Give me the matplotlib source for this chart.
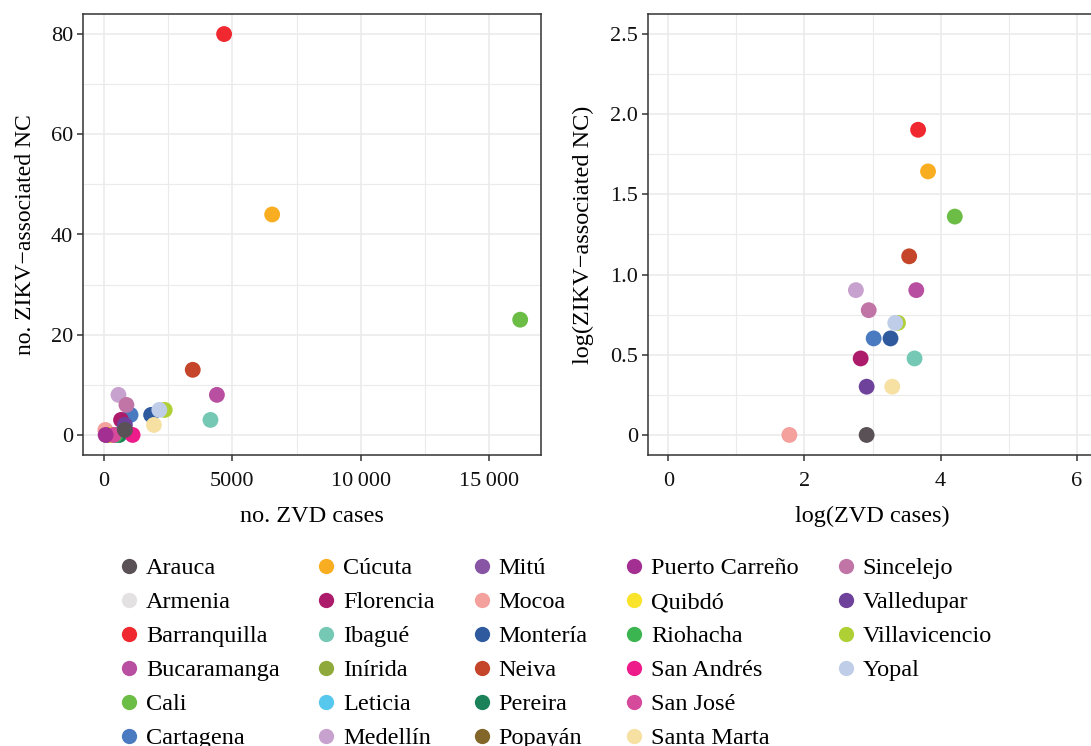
import numpy as np
import matplotlib
matplotlib.use("Agg")
import matplotlib.pyplot as plt
from matplotlib.lines import Line2D

# municipality, ZVD cases, ZIKV-associated NC
cities = ["Arauca", "Armenia", "Barranquilla", "Bucaramanga", "Cali", "Cartagena",
          "Cúcuta", "Florencia", "Ibagué", "Inírida", "Leticia", "Medellín",
          "Mitú", "Mocoa", "Montería", "Neiva", "Pereira", "Popayán",
          "Puerto Carreño", "Quibdó", "Riohacha", "San Andrés", "San José", "Santa Marta",
          "Sincelejo", "Valledupar", "Villavicencio", "Yopal"]
zvd_cases = [820, 200, 4680, 4400, 16200, 1040,
             6550, 670, 4150, 100, 500, 570,
             120, 60, 1840, 3460, 600, 250,
             70, 300, 450, 1120, 380, 1950,
             880, 820, 2370, 2160]
zikv_nc = [1, 0, 80, 8, 23, 4,
           44, 3, 3, 0, 0, 8,
           0, 1, 4, 13, 0, 0,
           0, 0, 0, 0, 0, 2,
           6, 2, 5, 5]
colors = ["#5A5156", "#E4E1E3", "#F0282F", "#B84FA0", "#6CBD45", "#4A7BC0",
          "#F9AE21", "#AC1C6B", "#74C8B4", "#8FAA3A", "#56C8EE", "#C8A2CE",
          "#8855A5", "#F4A09D", "#2F5A9E", "#C4452A", "#1A8158", "#82662A",
          "#A42F92", "#FAE42B", "#3BB54F", "#EE1C8A", "#D64A9C", "#F6E0A2",
          "#C075A6", "#6E429B", "#AFD035", "#BFCDE8"]
on_top = ["Puerto Carreño", "Arauca"]

left_xticks = [0, 5000, 10000, 15000]
left_xlabels = ["0", "5000", "10\u2009000", "15\u2009000"]

plt.rcParams["font.family"] = ["Liberation Serif", "DejaVu Serif"]
plt.rcParams["font.size"] = 16

fig = plt.figure(figsize=(10.91, 7.46), dpi=100)
ax1 = fig.add_axes([83 / 1091, 291 / 746, 458 / 1091, 441 / 746])
ax2 = fig.add_axes([648 / 1091, 291 / 746, 449 / 1091, 441 / 746])

cases = np.array(zvd_cases, dtype=float)
nc = np.array(zikv_nc, dtype=float)
order = [i for i in range(len(cities)) if cities[i] not in on_top] + \
        [cities.index(c) for c in on_top]

for z, i in enumerate(order):
    ax1.scatter(cases[i], nc[i], s=130, color=colors[i], edgecolors="none", zorder=3 + z * 0.01)
    if nc[i] > 0:
        ax2.scatter(np.log10(cases[i]), np.log10(nc[i]), s=130, color=colors[i],
                    edgecolors="none", zorder=3 + z * 0.01)

ax1.set_xlim(-810, 17010)
ax1.set_ylim(-4, 84)
ax1.set_xticks(left_xticks)
ax1.set_xticklabels(left_xlabels)
ax1.set_xticks([2500, 7500, 12500], minor=True)
ax1.set_yticks([0, 20, 40, 60, 80])
ax1.set_yticks([10, 30, 50, 70], minor=True)
ax1.set_xlabel("no. ZVD cases", fontsize=17.5, labelpad=11)
ax1.set_ylabel("no. ZIKV\u2212associated NC", fontsize=17, labelpad=10.5)

ax2.set_xlim(-0.3, 6.3)
ax2.set_ylim(-0.125, 2.625)
ax2.set_xticks([0, 2, 4, 6])
ax2.set_xticks([1, 3, 5], minor=True)
ax2.set_yticks([0, 0.5, 1.0, 1.5, 2.0, 2.5])
ax2.set_yticklabels(["0", "0.5", "1.0", "1.5", "2.0", "2.5"])
ax2.set_yticks([0.25, 0.75, 1.25, 1.75, 2.25], minor=True)
ax2.set_xlabel("log(ZVD cases)", fontsize=17.5, labelpad=11)
ax2.set_ylabel("log(ZIKV\u2212associated NC)", fontsize=17.5, labelpad=12)

for ax in (ax1, ax2):
    ax.grid(which="major", color="#EBEBEB", lw=1.2, zorder=0)
    ax.grid(which="minor", color="#EBEBEB", lw=0.8, zorder=0)
    ax.set_axisbelow(True)
    for sp in ax.spines.values():
        sp.set_color("#333333")
        sp.set_linewidth(1.1)
    ax.tick_params(which="major", length=4, width=1.1, color="#333333",
                   labelcolor="#111111")
    ax.tick_params(axis="x", which="major", pad=8)
    ax.tick_params(axis="y", which="major", pad=3)
    ax.tick_params(which="minor", length=0)

handles = [Line2D([], [], marker="o", ls="none", markersize=11, color=c, markeredgewidth=0)
           for c in colors]
labels = list(cities)
# two blank slots so the columns fill 6, 6, 6, 6, 4
for _ in range(2):
    handles.append(Line2D([], [], ls="none"))
    labels.append("")
fig.legend(handles, labels, ncol=5, loc="upper left", bbox_to_anchor=(107 / 1091, 1 - 545 / 746),
           frameon=False, borderpad=0, handlelength=0.8, handletextpad=0.3,
           columnspacing=1.52, labelspacing=0.495, fontsize=17.5)

fig.savefig("out.png", dpi=100)
